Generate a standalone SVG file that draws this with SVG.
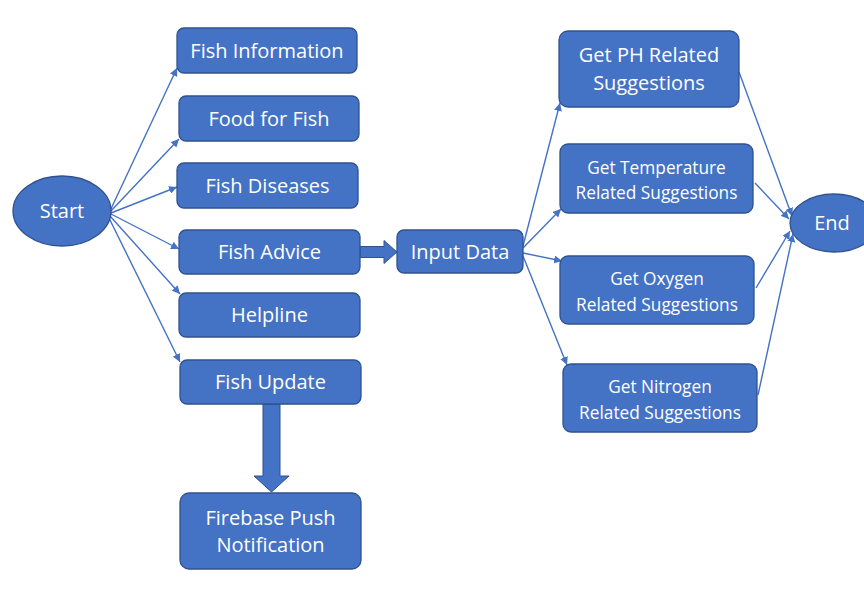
<svg xmlns="http://www.w3.org/2000/svg" width="864" height="590" viewBox="0 0 864 590">
  <defs>
    <style>
      .box { fill: #4472C4; stroke: #2F528F; stroke-width: 1.3; }
      .lbl { fill: #FFFFFF; font-family: "Open Sans", "Liberation Sans", sans-serif; font-size: 20px; text-anchor: middle; }
      .sm { font-size: 17.3px; }
      .conn { stroke: #4472C4; stroke-width: 1.4; fill: none; marker-end: url(#arrow); }
      .block { fill: #4472C4; stroke: #2F528F; stroke-width: 1; }
    </style>
    <marker id="arrow" viewBox="0 0 10 10" refX="10" refY="5" markerWidth="8" markerHeight="8" markerUnits="userSpaceOnUse" orient="auto">
      <path d="M0,0 L10,5 L0,10 Z" fill="#4472C4"/>
    </marker>
  </defs>
  <rect width="864" height="590" fill="#FFFFFF"/>

  <!-- connectors -->
  <g id="connectors">
    <line class="conn" x1="110" y1="211" x2="177" y2="68"/>
    <line class="conn" x1="110" y1="212" x2="179" y2="139"/>
    <line class="conn" x1="111" y1="213" x2="177" y2="187"/>
    <line class="conn" x1="111" y1="214" x2="179" y2="249"/>
    <line class="conn" x1="110" y1="216" x2="180" y2="294"/>
    <line class="conn" x1="109" y1="218" x2="180" y2="362"/>

    <line class="conn" x1="523" y1="246" x2="560" y2="103"/>
    <line class="conn" x1="523" y1="248" x2="561" y2="209"/>
    <line class="conn" x1="523" y1="253" x2="562" y2="261"/>
    <line class="conn" x1="523" y1="256" x2="567" y2="365"/>

    <line class="conn" x1="739" y1="72" x2="792" y2="216"/>
    <line class="conn" x1="755" y1="183" x2="789" y2="219"/>
    <line class="conn" x1="756" y1="288" x2="790" y2="231"/>
    <line class="conn" x1="758" y1="395" x2="793" y2="234"/>

    <!-- block arrows -->
    <path class="block" d="M360,246.5 L384,246.5 L384,240.5 L397,252 L384,263.5 L384,257.5 L360,257.5 Z"/>
    <path class="block" d="M263,404 L280,404 L280,476 L289,476 L271.5,492 L254,476 L263,476 Z"/>
  </g>

  <g id="start">
    <ellipse class="box" cx="62" cy="211" rx="49" ry="35"/>
    <text class="lbl" x="62" y="218">Start</text>
  </g>

  <g id="fish-information">
    <rect class="box" x="177" y="28" width="180" height="45" rx="7"/>
    <text class="lbl" x="267" y="57.5">Fish Information</text>
  </g>
  <g id="food-for-fish">
    <rect class="box" x="179" y="96" width="180" height="45" rx="7"/>
    <text class="lbl" x="269" y="125.5">Food for Fish</text>
  </g>
  <g id="fish-diseases">
    <rect class="box" x="177" y="163" width="181" height="45" rx="7"/>
    <text class="lbl" x="267.5" y="192.5">Fish Diseases</text>
  </g>
  <g id="fish-advice">
    <rect class="box" x="179" y="230" width="181" height="44" rx="7"/>
    <text class="lbl" x="269.5" y="259">Fish Advice</text>
  </g>
  <g id="helpline">
    <rect class="box" x="179" y="293" width="181" height="44" rx="7"/>
    <text class="lbl" x="269.5" y="322">Helpline</text>
  </g>
  <g id="fish-update">
    <rect class="box" x="180" y="360" width="181" height="44" rx="7"/>
    <text class="lbl" x="270.5" y="389">Fish Update</text>
  </g>
  <g id="firebase-push">
    <rect class="box" x="180" y="493" width="181" height="76" rx="9"/>
    <text class="lbl" x="270.5" y="525">Firebase Push</text>
    <text class="lbl" x="270.5" y="552">Notification</text>
  </g>

  <g id="input-data">
    <rect class="box" x="397" y="230" width="126" height="43" rx="7"/>
    <text class="lbl" x="460" y="258.5">Input Data</text>
  </g>

  <g id="ph">
    <rect class="box" x="559" y="31" width="180" height="76" rx="9"/>
    <text class="lbl" x="649" y="62">Get PH Related</text>
    <text class="lbl" x="649" y="90">Suggestions</text>
  </g>
  <g id="temperature">
    <rect class="box" x="560" y="144" width="193" height="69" rx="8"/>
    <text class="lbl sm" x="656.5" y="174">Get Temperature</text>
    <text class="lbl sm" x="656.5" y="199">Related Suggestions</text>
  </g>
  <g id="oxygen">
    <rect class="box" x="560" y="256" width="194" height="68" rx="8"/>
    <text class="lbl sm" x="657" y="285">Get Oxygen</text>
    <text class="lbl sm" x="657" y="311">Related Suggestions</text>
  </g>
  <g id="nitrogen">
    <rect class="box" x="563" y="364" width="194" height="68" rx="8"/>
    <text class="lbl sm" x="660" y="393">Get Nitrogen</text>
    <text class="lbl sm" x="660" y="419">Related Suggestions</text>
  </g>

  <g id="end">
    <ellipse class="box" cx="834" cy="223" rx="44" ry="29"/>
    <text class="lbl" x="832" y="230">End</text>
  </g>
</svg>
